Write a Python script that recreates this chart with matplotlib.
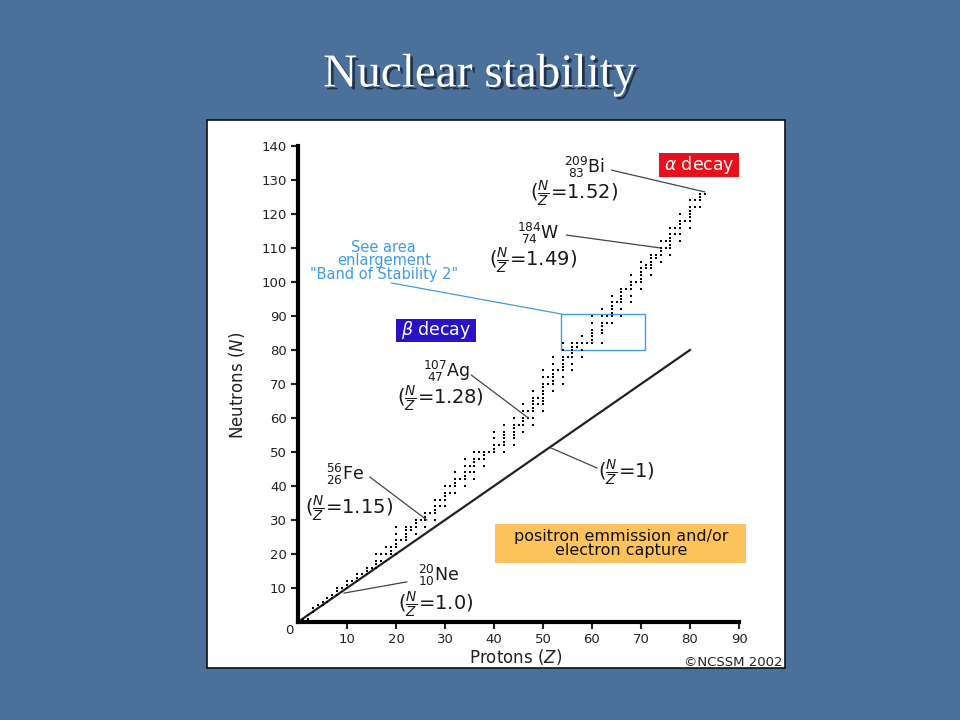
import numpy as np
import matplotlib
matplotlib.use("Agg")
import matplotlib.pyplot as plt
from matplotlib.patches import Rectangle
import matplotlib.patheffects as pe

plt.rcParams['font.family'] = ['DejaVu Sans']
plt.rcParams['mathtext.fontset'] = 'dejavusans'

# stable nuclides: protons Z -> neutron numbers N
stable = {
    1: [0, 1], 2: [1, 2], 3: [3, 4], 4: [5], 5: [5, 6], 6: [6, 7], 7: [7, 8],
    8: [8, 9, 10], 9: [10], 10: [10, 11, 12], 11: [12], 12: [12, 13, 14],
    13: [14], 14: [14, 15, 16], 15: [16], 16: [16, 17, 18, 20], 17: [18, 20],
    18: [18, 20, 22], 19: [20, 21, 22], 20: [20, 22, 23, 24, 26, 28], 21: [24],
    22: [24, 25, 26, 27, 28], 23: [27, 28], 24: [26, 28, 29, 30], 25: [30],
    26: [28, 30, 31, 32], 27: [32], 28: [30, 32, 33, 34, 36], 29: [34, 36],
    30: [34, 36, 37, 38, 40], 31: [38, 40], 32: [38, 40, 41, 42, 44], 33: [42],
    34: [40, 42, 43, 44, 46, 48], 35: [44, 46], 36: [42, 44, 46, 47, 48, 50],
    37: [48, 50], 38: [46, 48, 49, 50], 39: [50], 40: [50, 51, 52, 54, 56],
    41: [52], 42: [50, 52, 53, 54, 55, 56, 58], 44: [52, 54, 55, 56, 57, 58, 60],
    45: [58], 46: [56, 58, 59, 60, 62, 64], 47: [60, 62],
    48: [58, 60, 62, 63, 64, 65, 66, 68], 49: [64, 66],
    50: [62, 64, 65, 66, 67, 68, 69, 70, 72, 74], 51: [70, 72],
    52: [68, 70, 71, 72, 73, 74, 76, 78], 53: [74],
    54: [70, 72, 74, 75, 76, 77, 78, 80, 82], 55: [78],
    56: [74, 76, 78, 79, 80, 81, 82], 57: [81, 82], 58: [78, 80, 82, 84],
    59: [82], 60: [82, 83, 84, 85, 86, 88, 90], 62: [82, 85, 86, 87, 88, 90, 92],
    63: [88, 90], 64: [88, 90, 91, 92, 93, 94, 96], 65: [94],
    66: [90, 92, 94, 95, 96, 97, 98], 67: [98], 68: [94, 96, 98, 99, 100, 102],
    69: [100], 70: [98, 100, 101, 102, 103, 104, 106], 71: [104, 105],
    72: [102, 104, 105, 106, 107, 108], 73: [107, 108], 74: [106, 108, 109, 110, 112],
    75: [110, 112], 76: [108, 110, 111, 112, 113, 114, 116], 77: [114, 116],
    78: [112, 114, 116, 117, 118, 120], 79: [118],
    80: [116, 118, 119, 120, 121, 122, 124], 81: [122, 124],
    82: [122, 124, 125, 126], 83: [126],
}
Z = [z for z, ns in stable.items() for n in ns]
N = [n for z, ns in stable.items() for n in ns]

line_z = [0, 80]
xticks = list(range(10, 100, 10))
yticks = list(range(10, 150, 10))

bg = '#4b7099'
fig = plt.figure(figsize=(9.6, 7.2), dpi=100, facecolor=bg)

# title
fig.text(0.5, 1 - 75 / 720, 'Nuclear stability', ha='center', va='center',
         fontsize=34, color='white', family='Liberation Serif',
         path_effects=[pe.withSimplePatchShadow(offset=(2, -2), shadow_rgbFace='#1b2d44', alpha=0.9)])

# white panel
fig.add_artist(Rectangle((207 / 960, 1 - 668 / 720), 578 / 960, 548 / 720,
                         transform=fig.transFigure, facecolor='white',
                         edgecolor='#111111', linewidth=1.2, zorder=-5))

ax = fig.add_axes([298 / 960, 1 - 622 / 720, 441 / 960, 476 / 720])
ax.set_facecolor('none')
ax.set_xlim(0, 90)
ax.set_ylim(0, 140)
for s in ['top', 'right']:
    ax.spines[s].set_visible(False)
for s in ['left', 'bottom']:
    ax.spines[s].set_linewidth(3)
ax.set_xticks(xticks)
ax.set_yticks(yticks)
ax.tick_params(direction='out', length=5, width=1.5, labelsize=9.5, colors='#222222', pad=3)

ax.plot(line_z, line_z, color='#222222', lw=1.6, clip_on=False)
ax.plot(Z, N, 's', color='black', ms=2.0, mew=0, ls='none', clip_on=False)

fig.text(289 / 960, 1 - 631 / 720, '0', ha='center', va='center', fontsize=9.5, color='#222222')
fig.text(237 / 960, 1 - 385 / 720, r'Neutrons ($\it{N}$)', rotation=90, ha='center', va='center',
         fontsize=12, color='#222222')
fig.text(516 / 960, 1 - 657 / 720, r'Protons ($\it{Z}$)', ha='center', va='center',
         fontsize=12, color='#222222')
fig.text(783 / 960, 1 - 662 / 720, '\u00a9NCSSM 2002', ha='right', va='center',
         fontsize=9.5, color='#222222')

lab = dict(ha='center', va='center', fontsize=12.5, color='#1a1a1a', clip_on=False)
fr = dict(ha='center', va='center', fontsize=14, color='#1a1a1a', clip_on=False)
lc = dict(color='#444444', lw=0.9, clip_on=False)


def ratio(v):
    return '(' + r'$\frac{N}{Z}$' + '=' + v + ')'


# labels for nuclides
ax.text(58.5, 133.7, r'$^{209}_{\ 83}\mathrm{Bi}$', **lab)
ax.text(56.4, 125.9, ratio('1.52'), **fr)
ax.plot([64, 83], [132.9, 126.5], **lc)

ax.text(49.1, 114.4, r'$^{184}_{\ 74}\mathrm{W}$', **lab)
ax.text(47.9, 106.2, ratio('1.49'), **fr)
ax.plot([54.8, 74], [113.8, 110], **lc)

ax.text(30.3, 73.7, r'$^{107}_{\ 47}\mathrm{Ag}$', **lab)
ax.text(29.0, 65.6, ratio('1.28'), **fr)
ax.plot([35.4, 47], [72.6, 60], **lc)

ax.text(9.6, 43.5, r'$^{56}_{26}\mathrm{Fe}$', **lab)
ax.text(10.4, 33.2, ratio('1.15'), **fr)
ax.plot([14.7, 26.3], [42.6, 30], **lc)

ax.text(28.6, 13.8, r'$^{20}_{10}\mathrm{Ne}$', **lab)
ax.text(28.2, 5.0, ratio('1.0'), **fr)
ax.plot([22.2, 9.4], [11.8, 8.5], **lc)

ax.text(67.1, 43.8, ratio('1'), **fr)
ax.plot([61, 51.6], [45.3, 51.2], **lc)

# decay boxes
ax.add_patch(Rectangle((73.7, 130.9), 16.3, 7.0, facecolor='#e8101a', edgecolor='none', clip_on=False))
ax.text(81.9, 134.4, r'$\alpha$ decay', ha='center', va='center', fontsize=12.5, color='white', clip_on=False)

ax.add_patch(Rectangle((20.0, 82.4), 16.3, 6.7, facecolor='#2a12c8', edgecolor='none', clip_on=False))
ax.text(28.1, 85.8, r'$\beta$ decay', ha='center', va='center', fontsize=12.5, color='white', clip_on=False)

ax.add_patch(Rectangle((40.3, 17.4), 51.1, 11.4, facecolor='#fcc35c', edgecolor='none', clip_on=False))
ax.text(65.9, 23.1, 'positron emmission and/or\nelectron capture', ha='center', va='center',
        fontsize=11.5, color='#111111', linespacing=0.92, clip_on=False)

# enlargement box
blue = '#3f9ae8'
ax.add_patch(Rectangle((53.7, 80), 17.1, 10.6, facecolor='none', edgecolor=blue, lw=1.0, clip_on=False))
ax.plot([19.1, 53.7], [99.7, 90.6], color=blue, lw=0.9, clip_on=False)
ax.text(17.5, 106.2, 'See area\nenlargement\n"Band of Stability 2"', ha='center', va='center',
        fontsize=10.5, color=blue, linespacing=0.9, clip_on=False)

fig.savefig('out.png', dpi=100, facecolor=bg)
